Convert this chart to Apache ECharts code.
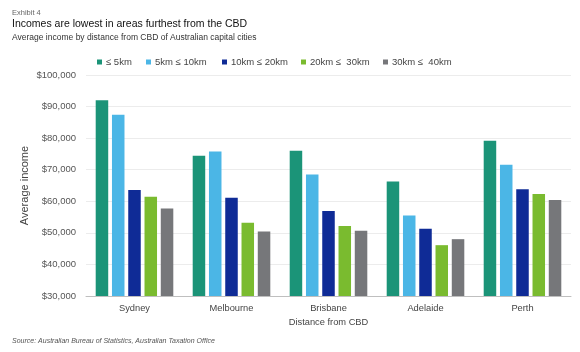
<!DOCTYPE html>
<html>
<head>
<meta charset="utf-8">
<script src="https://cdn.jsdelivr.net/npm/echarts@6/dist/echarts.min.js"></script>
<style>
  html, body { margin: 0; padding: 0; background: #fff; }
  #chart { width: 580px; height: 352px; }
</style>
</head>
<body>
<div id="chart"></div>
<script>
// data
const cities = ['Sydney', 'Melbourne', 'Brisbane', 'Adelaide', 'Perth']
const bands = ['≤ 5km', '5km ≤ 10km', '10km ≤ 20km', '20km ≤  30km', '30km ≤  40km']
const upTo5 = [92000, 74400, 76000, 66300, 79200]
const from5to10 = [87400, 75800, 68500, 55500, 71600]
const from10to20 = [63600, 61100, 56900, 51300, 63800]
const from20to30 = [61400, 53200, 52200, 46100, 62300]
const from30to40 = [57700, 50400, 50700, 48000, 60400]
const yTicks = [30000, 40000, 50000, 60000, 70000, 80000, 90000, 100000]

const colors = ['#1b9478', '#4bb6e6', '#0f2b96', '#7abb2f', '#76777a']
const seriesData = [upTo5, from5to10, from10to20, from20to30, from30to40]
const legendLeft = [97, 146, 222, 301, 383]

const axisFont = 'Liberation Sans, Arial, sans-serif'
const headFont = 'Liberation Sans, Arial, sans-serif'

function headText(text, y, size, color, style) {
  return {
    type: 'text', left: 12, top: y,
    style: {
      text, fill: color,
      font: (style || 'normal') + ' ' + size + 'px ' + headFont
    }
  }
}

const chart = echarts.init(document.getElementById('chart'))

chart.setOption({
  animation: false,
  graphic: [
    headText('Exhibit 4', 8.5, 7.5, '#666'),
    headText('Incomes are lowest in areas furthest from the CBD', 18.5, 10.5, '#111'),
    headText('Average income by distance from CBD of Australian capital cities', 33, 8.5, '#333'),
    headText('Source: Australian Bureau of Statistics, Australian Taxation Office', 337.5, 7, '#555', 'italic')
  ],
  legend: bands.map((b, i) => ({
    data: [b],
    left: legendLeft[i], top: 57,
    padding: 0,
    icon: 'rect',
    itemWidth: 5, itemHeight: 5,
    textStyle: { fontFamily: axisFont, fontSize: 9.5, color: '#444', padding: [0, 0, 0, -1] }
  })),
  grid: { left: 86, right: 9, top: 75, bottom: 56 },
  xAxis: {
    type: 'category',
    data: cities,
    name: 'Distance from CBD',
    nameLocation: 'middle',
    nameGap: 20,
    nameTextStyle: { fontFamily: axisFont, fontSize: 9.3, color: '#444' },
    axisLine: { lineStyle: { color: '#bfbfbf' } },
    axisTick: { length: 4, lineStyle: { color: '#bfbfbf' } },
    axisLabel: { fontFamily: axisFont, fontSize: 9.3, color: '#444', margin: 8 }
  },
  yAxis: {
    type: 'value',
    min: yTicks[0],
    max: yTicks[yTicks.length - 1],
    interval: yTicks[1] - yTicks[0],
    name: 'Average income',
    nameLocation: 'middle',
    nameGap: 56,
    nameMoveOverlap: false,
    nameTextStyle: { fontFamily: axisFont, fontSize: 11, color: '#444' },
    axisLine: { show: false },
    axisTick: { show: false },
    splitLine: { lineStyle: { color: '#ececec' } },
    axisLabel: {
      fontFamily: axisFont, fontSize: 9.5, color: '#555', margin: 10,
      formatter: v => '$' + v.toLocaleString('en-US')
    }
  },
  series: bands.map((name, i) => ({
    name,
    type: 'bar',
    data: seriesData[i],
    itemStyle: { color: colors[i] },
    barGap: '30%',
    barCategoryGap: '20%'
  }))
})
</script>
</body>
</html>
